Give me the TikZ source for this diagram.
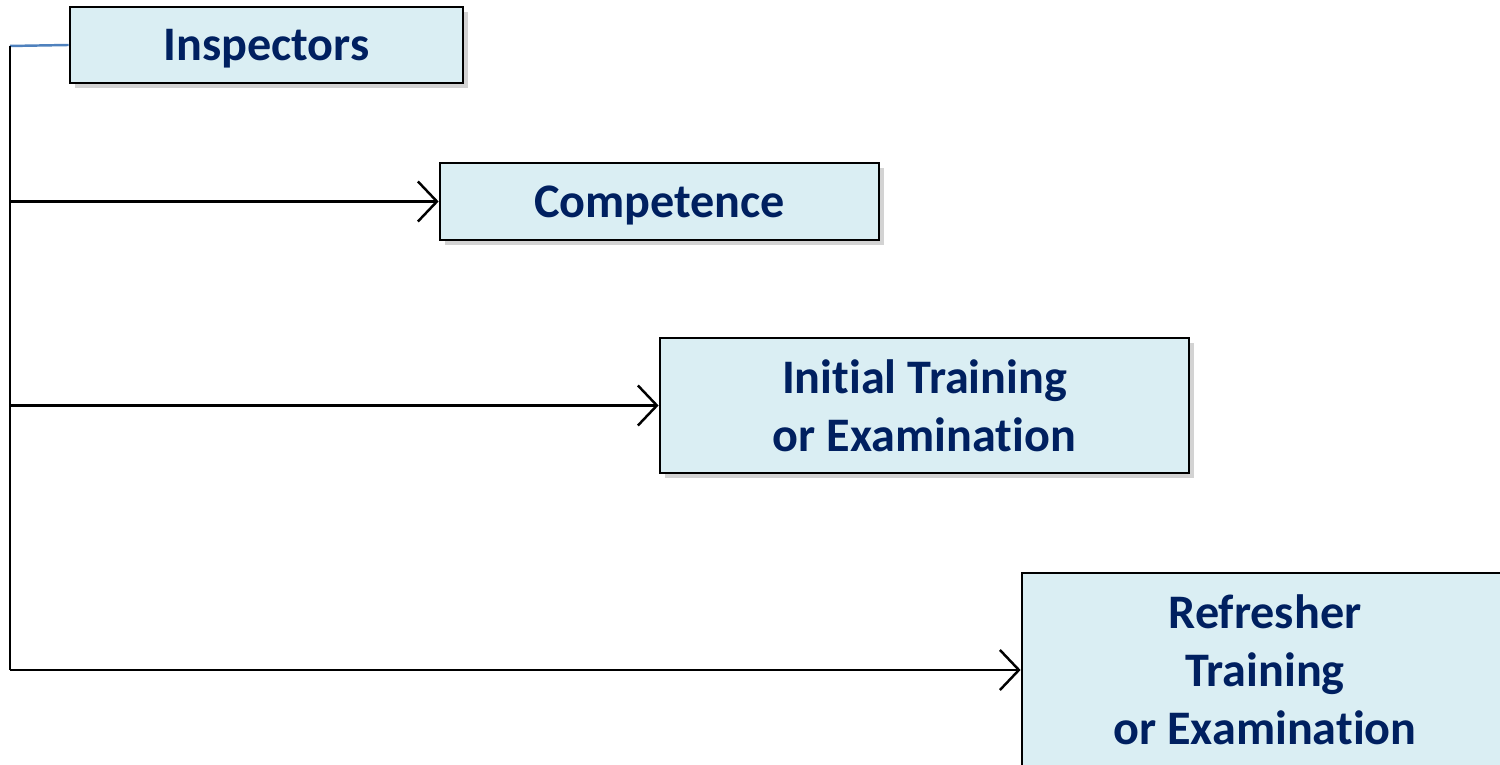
\documentclass[tikz,border=0pt]{standalone}
\usepackage{fontspec}
\setmainfont{Carlito}[Ligatures=NoCommon]
\usepackage{xcolor}
\usetikzlibrary{arrows.meta,shadows}

\definecolor{boxfill}{HTML}{DAEEF3}
\definecolor{boxtext}{HTML}{002060}
\definecolor{linkblue}{HTML}{4F81BD}

\tikzset{
  topic/.style={draw=black, line width=0.7pt, fill=boxfill, text=boxtext,
    font=\fontsize{13.7}{16.5}\selectfont\bfseries, align=center,
    inner sep=0pt, drop shadow={shadow xshift=0.05cm, shadow yshift=-0.05cm, opacity=0.35}},
  oneline/.style={text depth=0pt},
  link/.style={line width=0.7pt, -{Straight Barb[length=0.19cm,width=0.4cm,line width=0.7pt]}}
}

\begin{document}
\begin{tikzpicture}[x=0.01cm, y=-0.01cm]
		\useasboundingbox (0,0) rectangle (1500,765);

		\node[topic, oneline, minimum width=3.93cm, minimum height=0.76cm] (insp) at (266.5,45) {Inspectors};
		\node[topic, oneline, minimum width=4.39cm, minimum height=0.77cm] (comp) at (659.5,201.5) {Competence};
		\node[topic, minimum width=5.29cm, minimum height=1.35cm] (init) at (924.5,405.5) {Initial Training\\or Examination};
		\node[topic, minimum width=4.86cm, minimum height=1.94cm] (refr) at (1265,670) {Refresher\\Training\\or Examination};

		\coordinate (corner) at (10,46);
		\coordinate (base) at (10,670);

		\draw[linkblue, line width=0.7pt] (insp.west) -- (corner);
		\draw[line width=0.7pt] (corner) -- (base);

		\draw[link] (corner |- comp.west) -- (comp.west);
		\draw[link] (corner |- init.west) -- (init.west);
		\draw[link] (base) -- (refr.west);
\end{tikzpicture}
\end{document}
